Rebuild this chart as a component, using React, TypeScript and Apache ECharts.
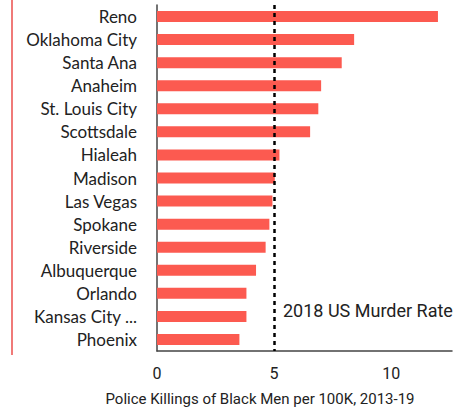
import React, { useEffect, useRef } from "react";
import * as echarts from "echarts";

const cities = [
  "Reno",
  "Oklahoma City",
  "Santa Ana",
  "Anaheim",
  "St. Louis City",
  "Scottsdale",
  "Hialeah",
  "Madison",
  "Las Vegas",
  "Spokane",
  "Riverside",
  "Albuquerque",
  "Orlando",
  "Kansas City ...",
  "Phoenix",
];
const killingsPer100K = [12.0, 8.42, 7.89, 7.01, 6.89, 6.54, 5.23, 5.03, 4.93, 4.8, 4.64, 4.23, 3.82, 3.82, 3.52];
const murderRate2018 = 5.0;
const xTicks = [0, 5, 10];
const axisTitle = "Police Killings of Black Men per 100K, 2013-19";
const refLabel = "2018 US Murder Rate";

export default function App() {
  const ref = useRef<HTMLDivElement>(null);
  useEffect(() => {
    const chart = echarts.init(ref.current!, null, { renderer: "svg" });
    chart.setOption({
      animation: false,
      grid: { left: 157, right: 15, top: 5, bottom: 58 },
      xAxis: {
        type: "value",
        min: 0,
        max: 12.6,
        interval: 5,
        axisLine: { show: true, lineStyle: { color: "#444", width: 1.5 } },
        axisTick: { show: false },
        splitLine: { show: false },
        axisLabel: {
          color: "#222",
          fontFamily: "Roboto",
          fontSize: 16,
          margin: 14,
          showMaxLabel: false,
          formatter: (v: number) => (xTicks.includes(v) ? String(v) : ""),
        },
      },
      yAxis: {
        type: "category",
        data: cities,
        inverse: true,
        axisLine: { show: true, lineStyle: { color: "#444", width: 1.5 } },
        axisTick: { show: false },
        axisLabel: {
          color: "#222",
          fontFamily: "Lato",
          fontSize: 17,
          margin: 20,
        },
      },
      series: [
        {
          type: "bar",
          data: killingsPer100K,
          barWidth: 11,
          itemStyle: { color: "#fc5a50" },
          markLine: {
            symbol: "none",
            silent: true,
            z: 10,
            label: { show: false },
            lineStyle: { color: "#000", type: [4, 4], width: 2.5 },
            data: [{ xAxis: murderRate2018 }],
          },
        },
      ],
      graphic: [
        {
          type: "line",
          shape: { x1: 12, y1: 0, x2: 12, y2: 355 },
          style: { stroke: "#f07a78", lineWidth: 2 },
        },
        {
          type: "text",
          x: 283,
          y: 310,
          style: {
            text: refLabel,
            font: "18px Roboto",
            fill: "#222",
            verticalAlign: "middle",
          },
        },
        {
          type: "text",
          x: 260,
          y: 399,
          style: {
            text: axisTitle,
            font: "15px Roboto",
            fill: "#222",
            align: "center",
            verticalAlign: "middle",
          },
        },
      ],
    });
    return () => chart.dispose();
  }, []);
  return <div ref={ref} style={{ width: 467, height: 409, position: "absolute", left: 0, top: 0 }} />;
}
